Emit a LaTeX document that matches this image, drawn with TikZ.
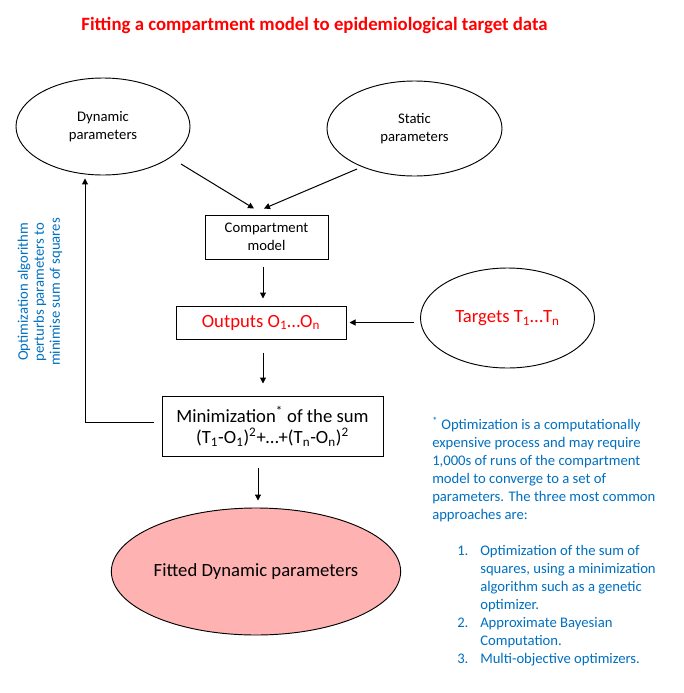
\documentclass[tikz,border=0pt]{standalone}
\usepackage{fontspec}
\setmainfont{Carlito}
\usetikzlibrary{shapes.geometric,arrows.meta,calc}
\definecolor{titlered}{RGB}{255,0,0}
\definecolor{noteblue}{RGB}{0,112,192}
\definecolor{fitpink}{RGB}{255,178,178}
\begin{document}
\begin{tikzpicture}[x=0.75pt,y=-0.75pt,
  every node/.style={inner sep=0pt,align=center},
  oval/.style={draw,ellipse,line width=0.7pt},
  boxnode/.style={draw,rectangle,line width=0.75pt},
  smalltxt/.style={font=\fontsize{11}{13.5}\selectfont},
  bigtxt/.style={font=\fontsize{14}{16}\selectfont},
  arr/.style={line width=0.75pt,-{Triangle[length=4.5pt,width=4.5pt]}}]
\useasboundingbox (0,0) rectangle (684,693);
\fill[white] (0,0) rectangle (684,693);

\node[font=\bfseries\fontsize{14.1}{16}\selectfont,text=titlered] (title) at (314.5,25) {Fitting a compartment model to epidemiological target data};

\node[oval,smalltxt,minimum width=130.5pt,minimum height=72.75pt] (dyn) at (103,126.5) {Dynamic\\parameters};
\node[oval,smalltxt,minimum width=131.25pt,minimum height=71.25pt] (stat) at (414.5,128.5) {Static\\parameters};
\node[boxnode,smalltxt,minimum width=92.25pt,minimum height=33pt] (comp) at (266.5,237) {Compartment\\model};
\node[boxnode,bigtxt,text=titlered,minimum width=127.5pt,minimum height=24.75pt] (out) at (261,322.5) {Outputs O\textsubscript{1}…O\textsubscript{n}};
\node[oval,bigtxt,text=titlered,minimum width=130.5pt,minimum height=75pt] (tgt) at (507.5,318) {Targets T\textsubscript{1}…T\textsubscript{n}};
\node[boxnode,bigtxt,minimum width=165.75pt,minimum height=45pt] (min) at (272.5,426) {Minimization\textsuperscript{*} of the sum\\(T\textsubscript{1}-O\textsubscript{1})\textsuperscript{2}+…+(T\textsubscript{n}-O\textsubscript{n})\textsuperscript{2}};
\node[oval,bigtxt,fill=fitpink,minimum width=178.5pt,minimum height=95.25pt] (fit) at (256,571.5) {Fitted Dynamic parameters};

\node[rotate=90,text=noteblue,font=\fontsize{11}{12}\selectfont] (opt) at (40,292) {Optimization algorithm\\perturbs parameters to\\minimise sum of squares};

\node[anchor=north west,align=left,text=noteblue,smalltxt] (note) at (432,417) {\textsuperscript{*} Optimization is a computationally\\
expensive process and may require\\
1,000s of runs of the compartment\\
model to converge to a set of\\
parameters. The three most common\\
approaches are:\\[13.5pt]
\hspace*{18.75pt}\makebox[17.25pt][l]{1.}Optimization of the sum of\\
\hspace*{36pt}squares, using a minimization\\
\hspace*{36pt}algorithm such as a genetic\\
\hspace*{36pt}optimizer.\\
\hspace*{18.75pt}\makebox[17.25pt][l]{2.}Approximate Bayesian\\
\hspace*{36pt}Computation.\\
\hspace*{18.75pt}\makebox[17.25pt][l]{3.}Multi-objective optimizers.};

\draw[arr] ($(dyn.center)+(78,37.5)$) -- ($(comp.north)+(-12.5,-6)$);
\draw[arr] ($(stat.center)+(-57.5,40.5)$) -- ($(comp.north)+(-2.5,-6)$);
\draw[arr] ($(comp.south)+(-3.5,7)$) -- ($(out.north)+(2,-7)$);
\draw[arr] ($(out.east -| tgt.west)+(-6,0)$) -- ($(out.east)+(3,0)$);
\draw[arr] ($(out.south)+(2,13)$) -- ($(min.north)+(-9.5,-12)$);
\draw[arr] ($(min.south)+(-14.5,11)$) -- ($(fit.north)+(2,-7)$);
\draw[arr] ($(min.west)+(-8,-4)$) -| ($(dyn.south)+(-18,3)$);
\end{tikzpicture}
\end{document}
